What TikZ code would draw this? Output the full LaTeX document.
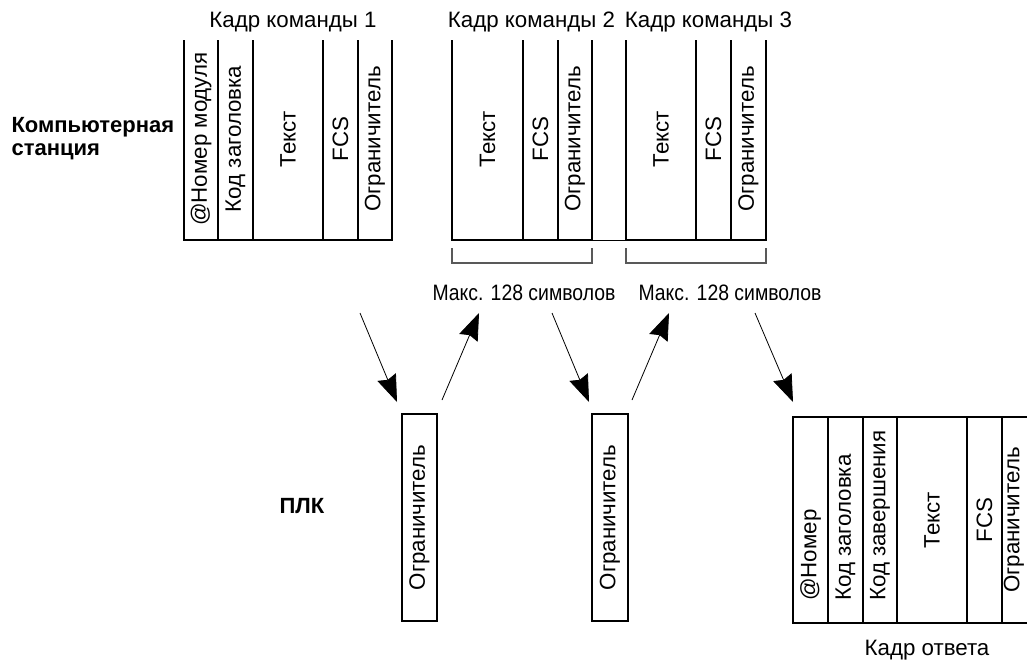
\documentclass[tikz,border=0pt]{standalone}
\usepackage{fontspec}
\setmainfont{Liberation Sans}
\usetikzlibrary{arrows.meta}

\begin{document}
\begin{tikzpicture}[x=1pt,y=-1pt,
		every node/.style={font=\fontsize{22.3}{25}\selectfont},
		vlabel/.style={rotate=90,inner sep=0pt},
		cellline/.style={line width=1.6pt},
		baseline/.style={line width=2.4pt},
		spanline/.style={line width=1.3pt,draw=black!65},
		flow/.style={line width=0.8pt,-{Stealth[length=27pt,width=20pt,inset=3pt]}}]
	\useasboundingbox (0,0) rectangle (1027,662);
	\clip (0,0) rectangle (1027,662);
	% side labels
	\node[anchor=west,align=left,font=\bfseries\fontsize{22}{23}\selectfont] (pc) at (8,139) {Компьютерная\\станция};
	\node[anchor=west,font=\bfseries\fontsize{22}{23}\selectfont] (plc) at (276,506) {ПЛК};
	% command frame 1
	\node (cmd1) at (293,22) {Кадр команды 1};
	\draw[cellline] (184,40) -- (184,240);
	\draw[cellline] (218,40) -- (218,240);
	\draw[cellline] (253,40) -- (253,240);
	\draw[cellline] (323,40) -- (323,240);
	\draw[cellline] (358,40) -- (358,240);
	\draw[cellline] (392,40) -- (392,240);
	\draw[baseline] (183,240) -- (393,240);
	\node[vlabel] (c1addr) at (201,139) {@Номер модуля};
	\node[vlabel] (c1head) at (235.5,139) {Код заголовка};
	\node[vlabel] (c1text) at (288,139) {Текст};
	\node[vlabel] (c1fcs) at (340.5,139) {FCS};
	\node[vlabel] (c1term) at (375,139) {Ограничитель};
	% command frame 2
	\node (cmd2) at (531.5,22) {Кадр команды 2};
	\draw[cellline] (452,40) -- (452,240);
	\draw[cellline] (523,40) -- (523,240);
	\draw[cellline] (558,40) -- (558,240);
	\draw[cellline] (592,40) -- (592,240);
	\draw[baseline] (451,240) -- (593,240);
	\node[vlabel] (c2text) at (487.5,139) {Текст};
	\node[vlabel] (c2fcs) at (540.5,139) {FCS};
	\node[vlabel] (c2term) at (575,139) {Ограничитель};
	% command frame 3
	\node (cmd3) at (708.5,22) {Кадр команды 3};
	\draw[cellline] (626,40) -- (626,240);
	\draw[cellline] (696,40) -- (696,240);
	\draw[cellline] (731,40) -- (731,240);
	\draw[cellline] (766,40) -- (766,240);
	\draw[baseline] (625,240) -- (767,240);
	\node[vlabel] (c3text) at (661,139) {Текст};
	\node[vlabel] (c3fcs) at (713.5,139) {FCS};
	\node[vlabel] (c3term) at (748.5,139) {Ограничитель};
	\draw[line width=0.8pt] (592,240) -- (626,240);
	% length marks
	\draw[spanline] (452,248) -- (452,263) -- (592,263) -- (592,248);
	\draw[spanline] (626,248) -- (626,263) -- (766,263) -- (766,248);
	\node[xscale=0.87] (max1) at (524,293) {Макс. 128 символов};
	\node[xscale=0.87] (max2) at (730,293) {Макс. 128 символов};
	% PLC side
	\node[draw,line width=1.4pt,minimum width=35,minimum height=207,inner sep=0pt] (term1) at (419.5,517.5) {};
	\node[vlabel] at (term1) {Ограничитель};
	\node[draw,line width=1.4pt,minimum width=36,minimum height=207,inner sep=0pt] (term2) at (610,517.5) {};
	\node[vlabel] at (term2) {Ограничитель};
	% response frame
	\draw[cellline] (793,417) rectangle (1040,623);
	\draw[cellline] (828,417) -- (828,623);
	\draw[cellline] (863,417) -- (863,623);
	\draw[cellline] (897,417) -- (897,623);
	\draw[cellline] (967,417) -- (967,623);
	\draw[cellline] (1002,417) -- (1002,623);
	\draw[baseline] (792,623) -- (1040,623);
	\node[vlabel,anchor=west] (raddr) at (810.5,601) {@Номер};
	\node[vlabel,anchor=west] (rhead) at (845.5,601) {Код заголовка};
	\node[vlabel,anchor=west] (rend) at (880,601) {Код завершения};
	\node[vlabel] (rtext) at (932,520) {Текст};
	\node[vlabel] (rfcs) at (984.5,520) {FCS};
	\node[vlabel] (rterm) at (1014,520) {Ограничитель};
	\node (resp) at (927,650) {Кадр ответа};
	% transfer arrows
	\coordinate (s1) at (360,313);
	\coordinate (e1) at (397,402);
	\coordinate (s2) at (442,400);
	\coordinate (e2) at (479,313);
	\coordinate (s3) at (552,313);
	\coordinate (e3) at (589,402);
	\coordinate (s4) at (632,400);
	\coordinate (e4) at (669,313);
	\coordinate (s5) at (755,313);
	\coordinate (e5) at (793,402);
	\draw[flow] (s1) -- (e1);
	\draw[flow] (s2) -- (e2);
	\draw[flow] (s3) -- (e3);
	\draw[flow] (s4) -- (e4);
	\draw[flow] (s5) -- (e5);
\end{tikzpicture}
\end{document}
